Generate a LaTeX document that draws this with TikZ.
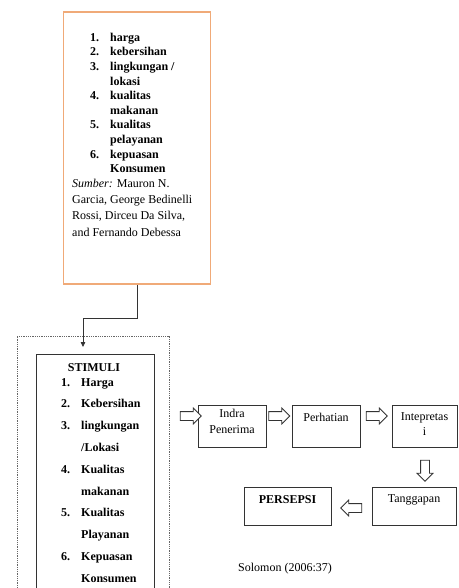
\documentclass[tikz,border=0pt]{standalone}
\usepackage{fontspec}
\setmainfont{Liberation Serif}
\usetikzlibrary{arrows.meta,shapes.arrows}
\definecolor{boxorange}{RGB}{240,170,120}

\tikzset{
  flowbox/.style={draw=black!80,line width=.8pt,minimum width=68pt,minimum height=42pt,inner sep=0pt},
  flowtxt/.style={inner sep=0pt,align=center,font=\fontsize{12}{16}\selectfont},
  hollow/.style={single arrow,draw=black!80,fill=white,line width=.8pt,minimum height=21pt,
    inner sep=4pt,single arrow head extend=3.5pt,single arrow head indent=0pt},
}

\begin{document}
\begin{tikzpicture}[x=1pt,y=-1pt]
\clip (0,0) rectangle (458,588);
\fill[white] (0,0) rectangle (458,588);
% kotak sumber
\node[draw=boxorange,line width=1.8pt,minimum width=147pt,minimum height=272pt] (obox) at (137,148) {};
\node[anchor=north west,inner sep=0pt,font=\fontsize{12}{14.6}\selectfont\bfseries] (olist) at (90,30.8) {%
\begin{tabular}{@{}r@{\hspace{11pt}}l@{}}
1. & harga\\
2. & kebersihan\\
3. & lingkungan /\\
   & lokasi\\
4. & kualitas\\
   & makanan\\
5. & kualitas\\
   & pelayanan\\
6. & kepuasan\\
   & Konsumen
\end{tabular}};
\node[anchor=north west,inner sep=0pt,font=\fontsize{12}{16.3}\selectfont] (osrc) at (72,175.6) {%
\begin{tabular}{@{}l@{}}
\textit{Sumber:} Mauron N.\\
Garcia, George Bedinelli\\
Rossi, Dirceu Da Silva,\\
and Fernando Debessa
\end{tabular}};
% kotak stimuli
\node[draw=black!60,densely dotted,line width=.8pt,minimum width=152pt,minimum height=264pt] (outer) at (93,468) {};
\node[draw=black!80,line width=.8pt,minimum width=118pt,minimum height=246pt] (stim) at (95,477) {};
\coordinate (inlet) at (83,347);
\node[inner sep=0pt,font=\fontsize{12}{14}\selectfont\bfseries] (stimhead) at (94,368) {STIMULI};
\node[anchor=north west,inner sep=0pt,font=\fontsize{12}{21.8}\selectfont\bfseries] (slist) at (61,370.7) {%
\begin{tabular}{@{}r@{\hspace{11pt}}l@{}}
1. & Harga\\
2. & Kebersihan\\
3. & lingkungan\\
   & /Lokasi\\
4. & Kualitas\\
   & makanan\\
5. & Kualitas\\
   & Playanan\\
6. & Kepuasan\\
   & Konsumen
\end{tabular}};
\draw[black!80,line width=.8pt,-{Triangle[length=5pt,width=4.5pt]}] (obox.south) -- ++(0,33) -| (inlet);
% alur persepsi
\node[flowbox] (indra) at (232,426) {};
\node[flowbox] (perhatian) at (326,426) {};
\node[flowbox,minimum width=65pt] (intep) at (424.5,426) {};
\node[flowbox,minimum width=84pt,minimum height=38pt] (tanggap) at (414,506) {};
\node[flowbox,minimum width=87pt,minimum height=38pt] (persepsi) at (287.5,506) {};
\node[flowtxt] (indratxt) at (232,421.5) {Indra\\Penerima};
\node[flowtxt] (perhatiantxt) at (326,417) {Perhatian};
\node[flowtxt,font=\fontsize{12}{15}\selectfont] (inteptxt) at (424.5,424.5) {Intepretas\\i};
\node[flowtxt] (tanggaptxt) at (414,500) {Tanggapan};
\node[flowtxt,font=\fontsize{12}{16}\selectfont\bfseries] (persepsitxt) at (287.5,500) {PERSEPSI};
\node[hollow] (a1) at (188.5,416) {};
\node[hollow] (a2) at (277,416) {};
\node[hollow] (a3) at (374.5,416) {};
\node[hollow,shape border rotate=270] (a4) at (425,468.5) {};
\node[hollow,shape border rotate=180] (a5) at (353.5,508) {};
\node[inner sep=0pt,font=\fontsize{12}{14}\selectfont] (ref) at (285,569) {Solomon (2006:37)};
\end{tikzpicture}
\end{document}
